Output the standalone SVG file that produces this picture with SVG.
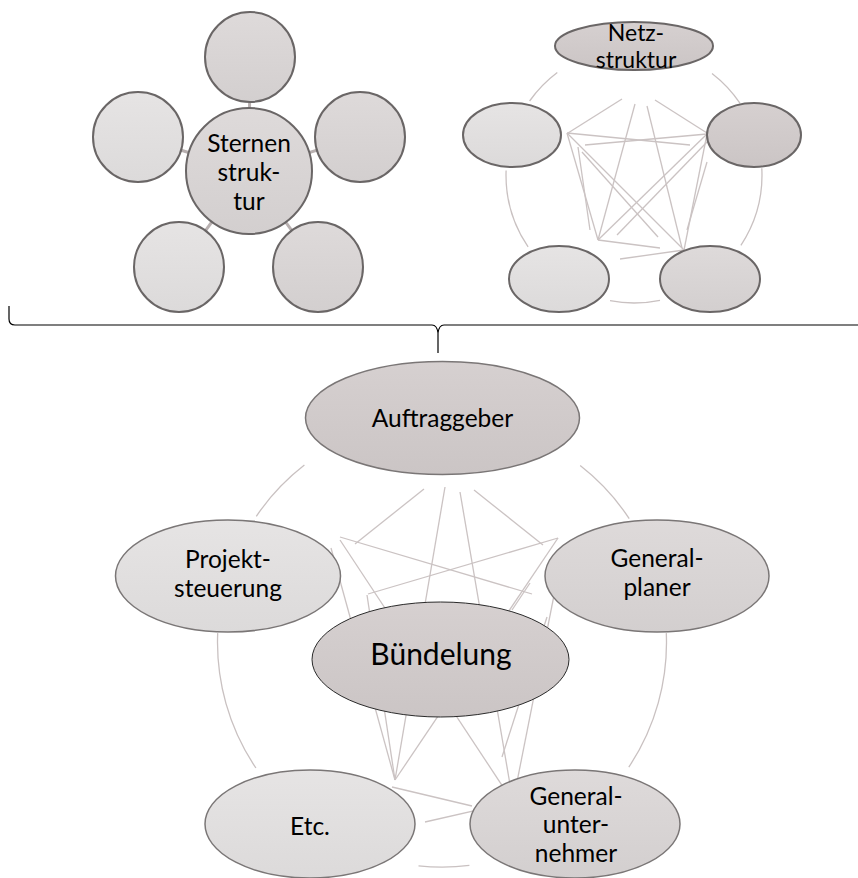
<svg xmlns="http://www.w3.org/2000/svg" width="858" height="878" viewBox="0 0 858 878">
<defs>
<linearGradient id="gDark" x1="0" y1="0" x2="0" y2="1"><stop offset="0" stop-color="#d6d0d0"/><stop offset="1" stop-color="#cbc5c5"/></linearGradient>
<linearGradient id="gMid" x1="0" y1="0" x2="0" y2="1"><stop offset="0" stop-color="#dedada"/><stop offset="1" stop-color="#d3cfcf"/></linearGradient>
<linearGradient id="gLight" x1="0" y1="0" x2="0" y2="1"><stop offset="0" stop-color="#e6e4e4"/><stop offset="1" stop-color="#dcdada"/></linearGradient>
</defs>
<style>
.t{font-family:Lato,"Liberation Sans",sans-serif;fill:#000;text-anchor:middle;font-size:24.5px}
.n{stroke:#7a7676;stroke-width:1.5}
.nt{stroke:#6a6666;stroke-width:2}
.ln{stroke:#cbc3c3;stroke-width:1.3;fill:none}
.arc{stroke:#c9c1c1;stroke-width:1.3;fill:none}
.star{stroke:#b8b0b0;stroke-width:3}
.dark{fill:url(#gDark)}
.mid{fill:url(#gMid)}
.light{fill:url(#gLight)}
</style>

<!-- Star structure connectors -->
<g id="star-connectors">
<line class="star" x1="249" y1="171" x2="250" y2="57"/>
<line class="star" x1="249" y1="171" x2="360" y2="137"/>
<line class="star" x1="249" y1="171" x2="138" y2="137"/>
<line class="star" x1="249" y1="171" x2="179" y2="267"/>
<line class="star" x1="249" y1="171" x2="318" y2="267"/>
</g>
<g id="star-top"><circle class="mid nt" cx="250" cy="57" r="45"/></g>
<g id="star-right"><circle class="mid nt" cx="360" cy="137" r="45"/></g>
<g id="star-left"><circle class="light nt" cx="138" cy="137" r="45"/></g>
<g id="star-bl"><circle class="light nt" cx="179" cy="267" r="45"/></g>
<g id="star-br"><circle class="mid nt" cx="318" cy="267" r="45"/></g>
<g id="star-center"><circle class="mid nt" cx="249" cy="171" r="63"/>
<text class="t" x="249" y="152">Sternen</text>
<text class="t" x="249" y="181">struk-</text>
<text class="t" x="249" y="210">tur</text>
</g>

<!-- Net structure connectors -->
<g id="net-connectors">
<path class="arc" d="M557.3,72.5 A128,128 0 0 0 529.6,101"/>
<path class="arc" d="M712,73.5 A128,128 0 0 1 740.1,103.4" stroke="#a89e9e"/>
<path class="arc" d="M506.1,170.5 A128,128 0 0 0 528.1,246.9"/>
<path class="arc" d="M761.8,168.3 A128,128 0 0 1 740.9,245.4" stroke="#a89e9e"/>
<path class="arc" d="M610,300.7 A128,128 0 0 0 660,300.3"/>
<line class="ln" x1="622" y1="99" x2="568" y2="133"/>
<line class="ln" x1="635" y1="104" x2="598" y2="240"/>
<line class="ln" x1="647" y1="106" x2="682" y2="248"/>
<line class="ln" x1="655" y1="100" x2="707" y2="133"/>
<line class="ln" x1="567" y1="133" x2="690" y2="145"/>
<line class="ln" x1="585" y1="145" x2="707" y2="134"/>
<line class="ln" x1="567" y1="133" x2="598" y2="240"/>
<line class="ln" x1="578" y1="147" x2="590" y2="230"/>
<line class="ln" x1="567" y1="133" x2="684" y2="250"/>
<line class="ln" x1="582" y1="152" x2="658" y2="237"/>
<line class="ln" x1="707" y1="134" x2="598" y2="240"/>
<line class="ln" x1="707" y1="142" x2="617" y2="235"/>
<line class="ln" x1="707" y1="134" x2="684" y2="250"/>
<line class="ln" x1="707" y1="162" x2="687" y2="230"/>
<line class="ln" x1="598" y1="240" x2="660" y2="248"/>
<line class="ln" x1="620" y1="259" x2="684" y2="250"/>
</g>
<g id="net-top"><ellipse class="dark nt" cx="634" cy="46" rx="79" ry="24"/>
<text class="t" x="636" y="41" style="font-size:23px">Netz-</text>
<text class="t" x="636" y="68" style="font-size:23px">struktur</text>
</g>
<g id="net-left"><ellipse class="light nt" cx="512" cy="135" rx="49" ry="32"/></g>
<g id="net-right"><ellipse class="dark nt" cx="754" cy="135" rx="47" ry="32"/></g>
<g id="net-bl"><ellipse class="light nt" cx="559" cy="279" rx="50" ry="33"/></g>
<g id="net-br"><ellipse class="mid nt" cx="710" cy="279" rx="50" ry="33"/></g>

<!-- Brace -->
<g id="brace">
<path d="M9,306 V319 Q9,325 15,325 H432 Q437,325 438,333 V353 M438,333 Q439,325 444,325 H858" fill="none" stroke="#000" stroke-width="1.2"/>
</g>

<!-- Bottom connectors -->
<g id="connectors">
<path class="arc" d="M304.4,465.1 A224.5,224.5 0 0 0 256.3,516.3"/>
<path class="arc" d="M580.2,465.6 A224.5,224.5 0 0 1 629.2,518.6" stroke="#b5abab"/>
<path class="arc" d="M217.7,633.1 A224.5,224.5 0 0 0 255.9,768"/>
<path class="arc" d="M666.3,633.1 A224.5,224.5 0 0 1 628.8,767.1"/>
<path class="arc" d="M418.5,865.8 A224.5,224.5 0 0 0 469.4,865.4"/>
<line class="ln" x1="424" y1="489" x2="355" y2="544"/>
<line class="ln" x1="445" y1="487" x2="395" y2="780"/>
<line class="ln" x1="460" y1="492" x2="513" y2="802"/>
<line class="ln" x1="474" y1="490" x2="543" y2="545"/>
<line class="ln" x1="340" y1="537" x2="532" y2="594"/>
<line class="ln" x1="558" y1="538" x2="368" y2="594"/>
<line class="ln" x1="331" y1="548" x2="395" y2="780"/>
<line class="ln" x1="367" y1="595" x2="395" y2="780"/>
<line class="ln" x1="340" y1="540" x2="513" y2="802"/>
<line class="ln" x1="558" y1="538" x2="395" y2="780"/>
<line class="ln" x1="563" y1="550" x2="513" y2="802"/>
<line class="ln" x1="547" y1="617" x2="502" y2="757"/>
<line class="ln" x1="530" y1="583" x2="512" y2="610"/>
<line class="ln" x1="392" y1="787" x2="472" y2="806"/>
<line class="ln" x1="513" y1="802" x2="425" y2="822"/>
</g>

<g id="auftraggeber"><ellipse class="dark n" cx="442.5" cy="418" rx="137" ry="56.5"/>
<text class="t" x="442.5" y="427">Auftraggeber</text></g>
<g id="projektsteuerung"><ellipse class="light n" cx="228" cy="576" rx="112.5" ry="56"/>
<text class="t" x="228" y="568">Projekt-</text>
<text class="t" x="228" y="597">steuerung</text></g>
<g id="generalplaner"><ellipse class="mid n" cx="657" cy="576" rx="112" ry="56"/>
<text class="t" x="657" y="567">General-</text>
<text class="t" x="657" y="596">planer</text></g>
<g id="buendelung"><ellipse class="dark" stroke="#2a2a2a" stroke-width="1" cx="440.5" cy="659.5" rx="128.5" ry="57.5"/>
<text class="t" x="441" y="665" style="font-size:30px">Bündelung</text></g>
<g id="etc"><ellipse class="light n" cx="310" cy="824" rx="105" ry="54"/>
<text class="t" x="310" y="835">Etc.</text></g>
<g id="generalunternehmer"><ellipse class="mid n" cx="575" cy="824" rx="105" ry="54"/>
<text class="t" x="576" y="805">General-</text>
<text class="t" x="576" y="833">unter-</text>
<text class="t" x="576" y="862">nehmer</text></g>
</svg>
